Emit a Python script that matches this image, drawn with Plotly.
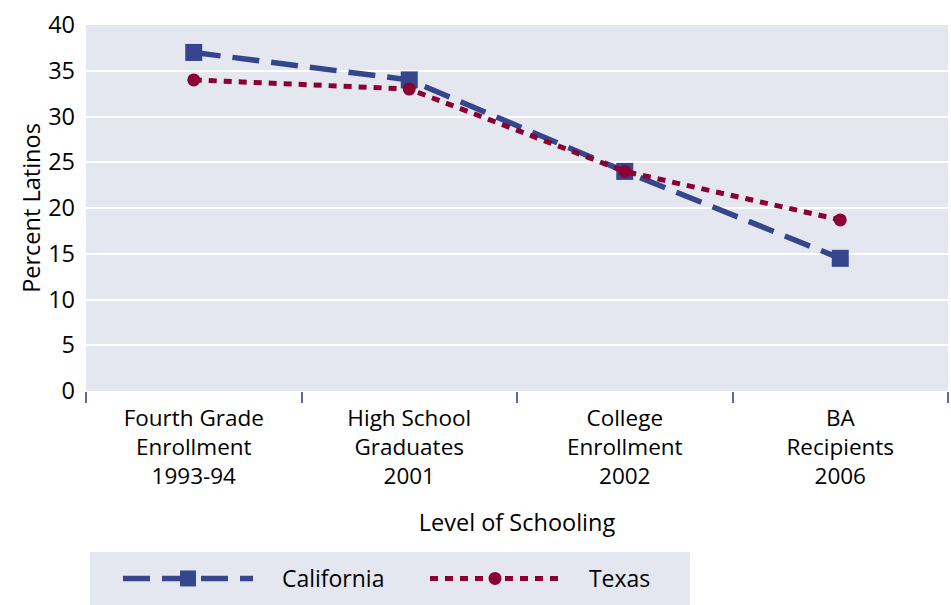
import plotly.graph_objects as go

categories = ["Fourth Grade<br>Enrollment<br>1993-94", "High School<br>Graduates<br>2001",
              "College<br>Enrollment<br>2002", "BA<br>Recipients<br>2006"]
california = [37, 34, 24, 14.5]
texas = [34, 33, 24, 18.7]
y_ticks = [0, 5, 10, 15, 20, 25, 30, 35, 40]
series_names = ["California", "Texas"]

FONT = "Open Sans"
BG = "#E4E7F0"
W, H = 951, 605
ML, MR, MT, MB = 86, 3, 25, 214
PAD = "\u00a0\u00a0\u00a0\u00a0"
fig = go.Figure()
fig.add_trace(go.Scatter(x=categories, y=california, name=PAD + series_names[0], mode="lines+markers",
                         line=dict(color="#36468C", width=5.5, dash="27px,12px"),
                         marker=dict(symbol="square", size=17, color="#36468C")))
fig.add_trace(go.Scatter(x=categories, y=texas, name=PAD + series_names[1], mode="lines+markers",
                         line=dict(color="#8B0033", width=5, dash="8px,7px"),
                         marker=dict(symbol="circle", size=13, color="#8B0033")))

ph = H - MT - MB
pw = W - ML - MR
def px_x(p):
    return (p - ML) / pw
def px_y(p):
    return (H - MB - p) / ph

fig.add_shape(type="rect", xref="paper", yref="paper",
              x0=px_x(90), x1=px_x(690), y0=px_y(552), y1=px_y(612),
              fillcolor=BG, line=dict(width=0), layer="below")

fig.update_layout(
    width=W, height=H,
    margin=dict(l=ML, r=MR, t=MT, b=MB, autoexpand=False),
    plot_bgcolor=BG, paper_bgcolor="white",
    font=dict(family=FONT, size=22.5, color="black"),
    showlegend=True,
    legend=dict(orientation="h", x=px_x(118), xanchor="left", y=px_y(557), yanchor="top",
                bgcolor="rgba(0,0,0,0)", font=dict(size=23), itemwidth=130,
                entrywidth=162, entrywidthmode="pixels"),
)
fig.update_xaxes(range=[-0.5, 3.5], showgrid=False, ticks="outside", tickson="boundaries", ticklen=11,
                 tickcolor="#5A68A8", tickwidth=1.5, showline=False,
                 title=dict(text="Level of Schooling", standoff=24, font=dict(size=23.5)),
                 tickfont=dict(size=22.5), ticklabelstandoff=11)
fig.update_yaxes(range=[0, 40], tickvals=y_ticks, showgrid=True, gridcolor="white",
                 gridwidth=1.5, zeroline=False, showline=False,
                 title=dict(text="Percent Latinos", standoff=0, font=dict(size=23.5)),
                 tickfont=dict(size=23.5), ticklabelstandoff=10)

fig.write_html("out.html")
